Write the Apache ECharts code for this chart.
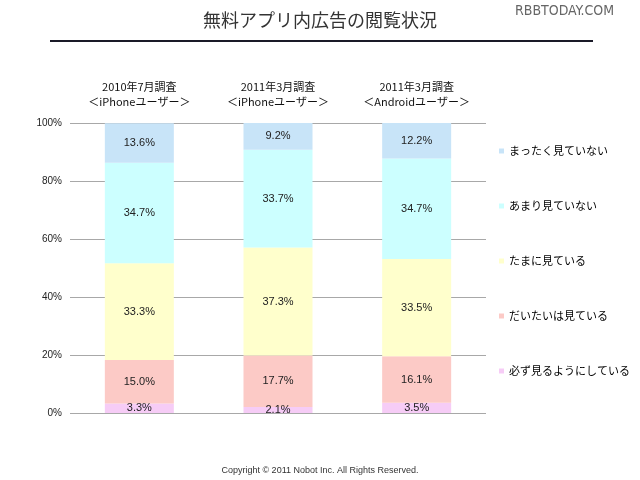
<!DOCTYPE html>
<html>
<head>
<meta charset="utf-8">
<script src="https://cdn.jsdelivr.net/npm/echarts@6/dist/echarts.min.js"></script>
<style>html,body{margin:0;padding:0;background:#fff}#c{width:640px;height:480px}</style>
</head>
<body>
<div id="c"></div>
<script>
var categories = ['2010年7月調査\n＜iPhoneユーザー＞', '2011年3月調査\n＜iPhoneユーザー＞', '2011年3月調査\n＜Androidユーザー＞'];
var seriesNames = ['必ず見るようにしている', 'だいたいは見ている', 'たまに見ている', 'あまり見ていない', 'まったく見ていない'];
var always = [3.3, 2.1, 3.5];
var mostly = [15.0, 17.7, 16.1];
var sometimes = [33.3, 37.3, 33.5];
var rarely = [34.7, 33.7, 34.7];
var never = [13.6, 9.2, 12.2];
var yTicks = [0, 20, 40, 60, 80, 100];
var colors = ['#f6ccf6', '#fccac6', '#ffffcc', '#ccffff', '#c8e4f8'];

var values = [always, mostly, sometimes, rarely, never];
var jp = '"Noto Sans CJK JP", "Noto Sans", sans-serif';
var lat = 'Arial, "Liberation Sans", "Noto Sans CJK JP", sans-serif';

var chart = echarts.init(document.getElementById('c'), null, {renderer: 'canvas'});
var series = seriesNames.map(function (n, i) {
  return {
    name: n,
    type: 'bar',
    stack: 'total',
    barWidth: 69,
    itemStyle: {color: colors[i]},
    label: {
      show: true,
      position: 'inside',
      color: '#222',
      fontSize: 11,
      fontFamily: lat,
      formatter: function (p) { return p.value.toFixed(1) + '%'; }
    },
    data: values[i]
  };
});

chart.setOption({
  animation: false,
  backgroundColor: '#fff',
  grid: {left: 70, right: 154, top: 123, bottom: 67},
  legend: {
    orient: 'vertical',
    left: 494,
    top: 139,
    itemWidth: 5,
    itemHeight: 5,
    itemGap: 41,
    icon: 'rect',
    data: seriesNames.slice().reverse(),
    textStyle: {fontSize: 11, color: '#000', fontFamily: jp, lineHeight: 14},
    selectedMode: false
  },
  xAxis: {
    type: 'category',
    position: 'top',
    data: categories,
    axisLine: {show: false},
    axisTick: {show: false},
    axisLabel: {margin: 14, fontSize: 11, lineHeight: 15, color: '#111', fontFamily: jp, interval: 0}
  },
  yAxis: {
    type: 'value',
    min: 0,
    max: 100,
    interval: 20,
    axisLine: {show: false},
    axisTick: {show: false},
    axisLabel: {margin: 8, fontSize: 10, color: '#222', fontFamily: lat, formatter: function (v) { return yTicks.indexOf(v) >= 0 ? v + '%' : ''; }},
    splitLine: {lineStyle: {color: '#a8a8a8', width: 1}}
  },
  graphic: [
    {type: 'text', left: 'center', top: 11, style: {text: '無料アプリ内広告の閲覧状況', font: '18px "Noto Sans CJK JP"', fill: '#333'}},
    {type: 'rect', shape: {x: 50, y: 40, width: 543, height: 2}, style: {fill: '#1a1a28'}},
    {type: 'text', left: 515, top: 4, style: {text: 'RBBTODAY.COM', font: '14px "DejaVu Sans Condensed", "Liberation Sans Narrow", sans-serif', fill: '#666'}},
    {type: 'text', left: 'center', top: 466, style: {text: 'Copyright © 2011 Nobot Inc. All Rights Reserved.', font: '9px Arial, "Liberation Sans", sans-serif', fill: '#333'}}
  ],
  series: series
});
</script>
</body>
</html>
